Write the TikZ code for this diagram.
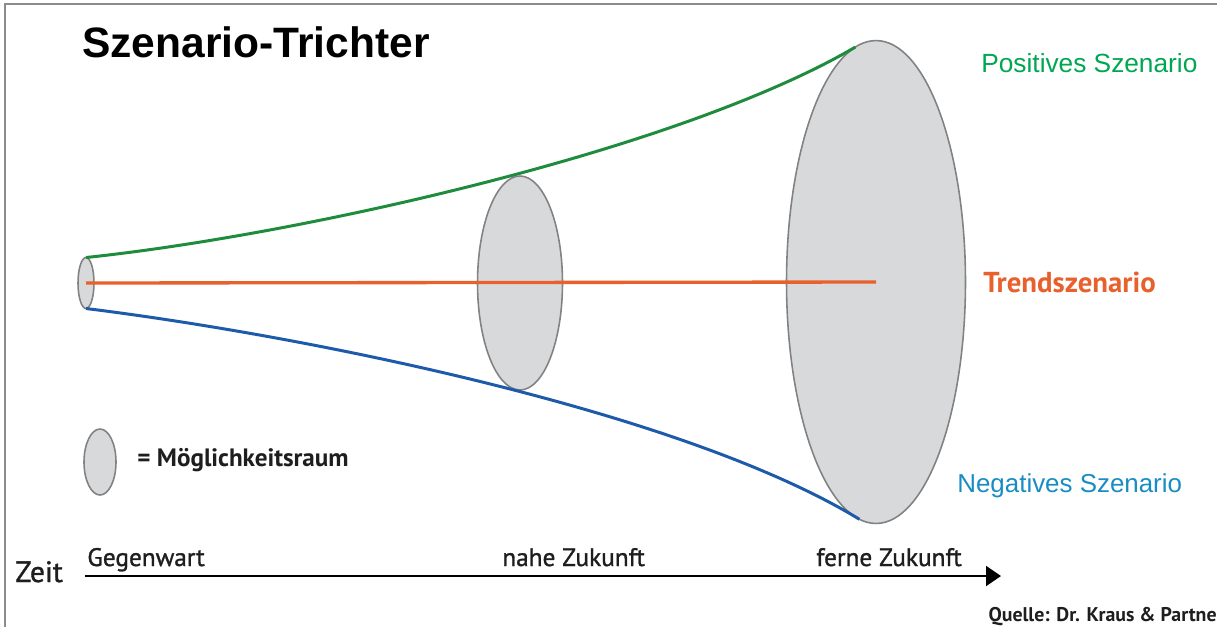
\documentclass[tikz,border=0pt]{standalone}
\usepackage{fontspec}
\setmainfont{Liberation Sans}
\newfontfamily\myr{PT Sans}
\newfontfamily\myrm[FakeBold=1.2]{PT Sans}
\usetikzlibrary{shapes.geometric,arrows.meta}
\definecolor{lgreen}{RGB}{30,140,60}
\definecolor{tgreen}{RGB}{0,166,81}
\definecolor{lblue}{RGB}{30,90,170}
\definecolor{tblue}{RGB}{24,140,195}
\definecolor{orng}{RGB}{232,96,44}
\definecolor{efill}{RGB}{216,217,219}
\definecolor{edraw}{RGB}{130,130,130}
\definecolor{framegray}{RGB}{140,140,140}
\definecolor{dtext}{RGB}{30,30,30}
\tikzset{
  raum/.style={ellipse,draw=edraw,fill=efill,line width=0.9pt,inner sep=0pt,outer sep=0pt},
  lbl/.style={inner sep=0pt,anchor=base west},
  curve/.style={line width=1.7pt},
  axlbl/.style={lbl,dtext,font=\myrm\fontsize{14.4}{17}\selectfont},
}
\begin{document}
\begin{tikzpicture}[x=0.02cm,y=-0.02cm]
\useasboundingbox (0,0) rectangle (1217,627);
% frame
\coordinate (f1) at (5,627);
\coordinate (f2) at (5,4);
\coordinate (f3) at (1217,4);
\draw[framegray,line width=1.2pt] (f1) -- (f2) -- (f3);
% title
\node[lbl,font=\fontsize{24.2}{28}\selectfont\bfseries] (title) at (82,57) {Szenario-Trichter};
% ellipses
\node[raum,minimum width=0.32cm,minimum height=1.02cm] (e1) at (86,283) {};
\node[raum,minimum width=1.70cm,minimum height=4.28cm] (e2) at (520,283) {};
\node[raum,minimum width=3.58cm,minimum height=9.66cm] (e3) at (876,282) {};
% scenario lines
\draw[curve,lgreen] (e1.north) .. controls (300,235) and (680,150) .. (e3.95);
\draw[curve,lblue] (e1.south) .. controls (300,335) and (680,410) .. (e3.266);
\draw[line width=1.9pt,orng] (e1.center) -- (e3.center);
% labels
\node[lbl,tgreen,font=\fontsize{14.95}{18}\selectfont] (pos) at (981,72) {Positives Szenario};
\node[lbl,orng,font=\myr\fontsize{16.4}{19}\selectfont\bfseries] (trend) at (983,292) {Trendszenario};
\node[lbl,tblue,font=\fontsize{14.75}{18}\selectfont] (neg) at (957,492) {Negatives Szenario};
% legend
\node[raum,minimum width=0.64cm,minimum height=1.32cm] (leg) at (100,462) {};
\node[lbl,dtext,font=\myr\fontsize{14.3}{17}\selectfont\bfseries] (legt) at (137,466) {= Möglichkeitsraum};
% axis
\coordinate (ax0) at (85,576);
\coordinate (ax1) at (1001,576);
\draw[line width=1.1pt,-{Triangle[length=0.3cm,width=0.4cm]}] (ax0) -- (ax1);
\node[lbl,dtext,font=\myrm\fontsize{16.8}{20}\selectfont] (zeit) at (15,582) {Zeit};
\node[axlbl] (gw) at (87,566) {Gegenwart};
\node[axlbl] (nz) at (502,566) {nahe Zukunft};
\node[axlbl] (fz) at (816,566) {ferne Zukunft};
\node[inner sep=0pt,anchor=base east,dtext,font=\myr\fontsize{11.3}{14}\selectfont\bfseries] (src) at (1217,621) {Quelle: Dr. Kraus \& Partne};
\end{tikzpicture}
\end{document}
